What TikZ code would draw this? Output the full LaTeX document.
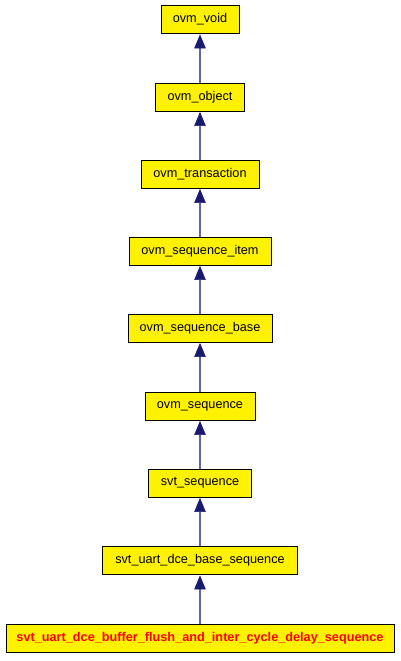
\documentclass[tikz,border=0pt]{standalone}
\usepackage{fontspec}
\setmainfont{Liberation Sans}
\usetikzlibrary{arrows.meta}
\definecolor{midblue}{HTML}{191970}
\definecolor{edgeblue}{HTML}{6464A8}
\tikzset{
  cls/.style={draw=black, fill=yellow, line width=0.9pt, minimum height=28pt, inner sep=0pt,
    font=\fontsize{12.7}{14}\selectfont, text=black},
  cur/.style={cls, text=red, font=\fontsize{12.7}{14}\selectfont\bfseries},
  inh/.style={draw=edgeblue, line width=1.3pt, shorten >=0.5pt,
    -{Triangle[length=14pt,width=11.5pt,color=midblue,fill=midblue,line width=0.5pt]}}
}
\begin{document}
\begin{tikzpicture}[x=1pt,y=-1pt]
\useasboundingbox (0,0) rectangle (400,661);
\node[cls, minimum width=78pt]  (void) at (200,19.5) {ovm\_void};
\node[cls, minimum width=89pt]  (obj)  at (200,97) {ovm\_object};
\node[cls, minimum width=118pt] (tr)   at (200,174) {ovm\_transaction};
\node[cls, minimum width=142pt] (si)   at (200,251) {ovm\_sequence\_item};
\node[cls, minimum width=144pt] (sb)   at (200,328) {ovm\_sequence\_base};
\node[cls, minimum width=110pt] (sq)   at (200,406) {ovm\_sequence};
\node[cls, minimum width=103pt] (svt)  at (200,483) {svt\_sequence};
\node[cls, minimum width=195pt] (base) at (200,560.5) {svt\_uart\_dce\_base\_sequence};
\node[cur, minimum width=388pt] (leaf) at (200,638.5) {svt\_uart\_dce\_buffer\_flush\_and\_inter\_cycle\_delay\_sequence};
\draw[inh] (obj) -- (void);
\draw[inh] (tr) -- (obj);
\draw[inh] (si) -- (tr);
\draw[inh] (sb) -- (si);
\draw[inh] (sq) -- (sb);
\draw[inh] (svt) -- (sq);
\draw[inh] (base) -- (svt);
\draw[inh] (leaf) -- (base);
\end{tikzpicture}
\end{document}
